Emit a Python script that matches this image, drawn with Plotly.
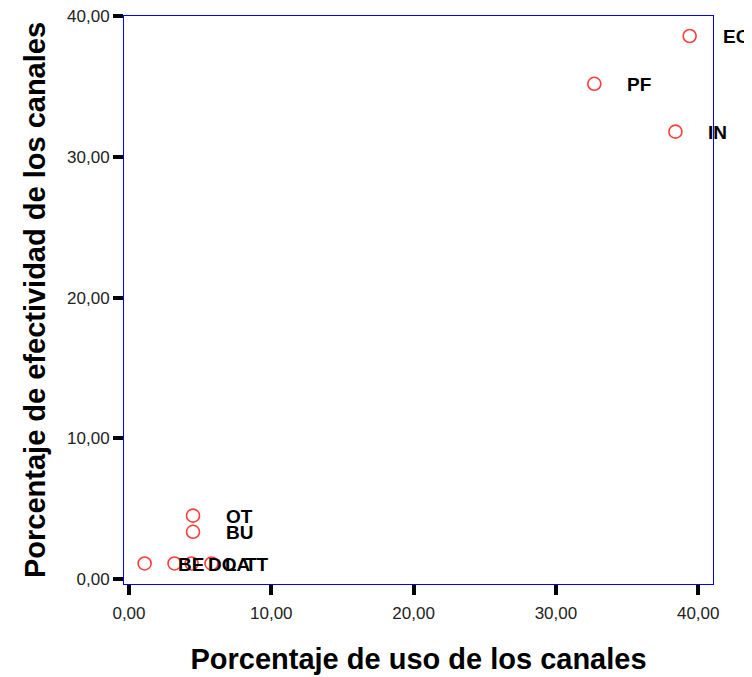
import plotly.graph_objects as go

labels = ["EC", "PF", "IN", "OT", "BU", "BE", "DO", "LA", "TT"]
uso = [39.4, 32.7, 38.4, 4.5, 4.5, 1.1, 3.2, 4.4, 5.8]
efectividad = [38.6, 35.2, 31.8, 4.5, 3.35, 1.1, 1.1, 1.1, 1.1]

x_ticks = [0, 10, 20, 30, 40]
y_ticks = [0, 10, 20, 30, 40]

fig = go.Figure()
fig.add_trace(go.Scatter(
    x=uso, y=efectividad, mode="markers",
    marker=dict(symbol="circle-open", size=13, color="#FF3B3B", line=dict(width=1.6)),
    showlegend=False, cliponaxis=False,
))

for lab, xv, yv in zip(labels, uso, efectividad):
    fig.add_annotation(x=xv, y=yv, text=lab, showarrow=False, xanchor="left",
                       yanchor="middle", xshift=31, yshift=-1,
                       font=dict(family="Liberation Sans, Arial", size=19, color="black", weight="bold"))

axis_common = dict(
    showgrid=False, zeroline=False, showline=True, linecolor="#0000FF", linewidth=1,
    mirror=True, ticks="outside", ticklen=10, tickwidth=4, tickcolor="black",
    tickformat=".2f", automargin=False, ticklabeloverflow="allow",
    tickfont=dict(family="Liberation Sans, Arial", size=17, color="#222"),
)

fig.update_xaxes(range=[-0.35, 41.04], tickvals=x_ticks, ticklabelstandoff=4, **axis_common,
                 title=dict(text="Porcentaje de uso de los canales", standoff=26,
                            font=dict(family="Liberation Sans, Arial", size=29, color="black", weight="bold")))
fig.update_yaxes(range=[-0.36, 40.02], tickvals=y_ticks, **axis_common,
                 title=dict(text="Porcentaje de efectividad de los canales", standoff=12,
                            font=dict(family="Liberation Sans, Arial", size=29, color="black", weight="bold")))

fig.update_layout(
    width=752, height=677, separators=",.",
    margin=dict(l=116, r=47, t=8, b=101),
    plot_bgcolor="white", paper_bgcolor="white",
)

fig.write_html("out.html")
